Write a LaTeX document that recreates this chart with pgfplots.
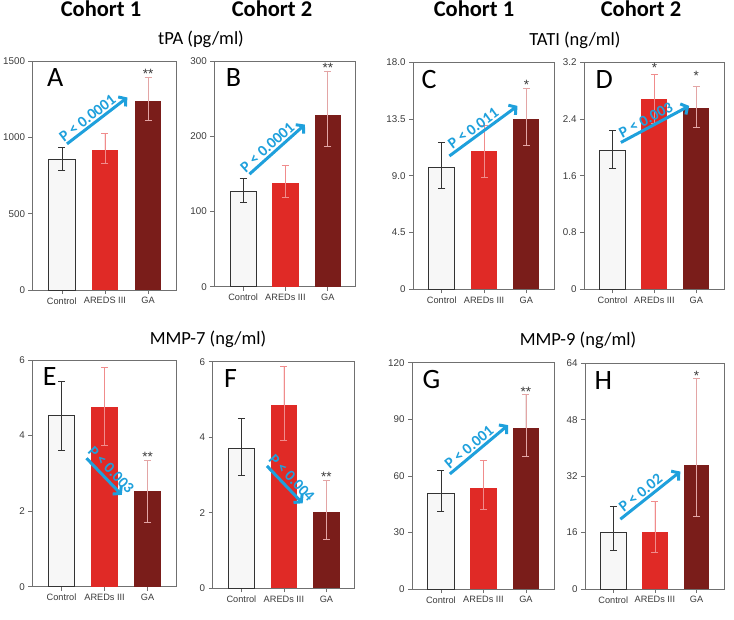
\documentclass[border=0pt]{standalone}
\usepackage{pgfplots}
\pgfplotsset{compat=1.18}
\usetikzlibrary{arrows.meta}
\usepackage{fontspec}
\setmainfont{Carlito}
\newfontfamily\arial{Liberation Sans}
\definecolor{ared}{HTML}{E02A26}
\definecolor{gared}{HTML}{7A1D1A}
\definecolor{pblue}{HTML}{1EA0DC}
\definecolor{framegray}{HTML}{707070}
\definecolor{ticktext}{HTML}{3A3A3A}
\definecolor{ctrlerr}{HTML}{333333}
\definecolor{arederr}{HTML}{F08C8C}
\definecolor{gaerr}{HTML}{E3A5A5}
\pgfplotsset{
 panel/.style={scale only axis, anchor=north west, ymin=0, xmin=-0.68, xmax=2.66,
  xtick={0,1,2}, xticklabels={Control,AREDs III,GA},
  axis line style={draw=framegray, line width=0.7pt},
  tick style={draw=framegray, line width=0.6pt}, tick align=outside,
  xtick pos=bottom, ytick pos=left, major tick length=4pt,
  yticklabel style={font=\arial\fontsize{9.8}{12}\selectfont, text=ticktext},
  xticklabel style={font=\arial\fontsize{9.2}{10}\selectfont, text=ticktext},
  /pgf/number format/assume math mode=true, /pgf/number format/1000 sep={}, clip=false},
 ctrl/.style={ybar, bar width=0.62, bar shift=0pt, fill=white!97!black, draw=ctrlerr, line width=0.8pt,
  error bars/.cd, y dir=both, y explicit, error bar style={draw=ctrlerr, line width=0.6pt},
  error mark options={draw=ctrlerr, rotate=90, mark size=3.5pt, line width=0.6pt}},
 ared/.style={ybar, bar width=0.62, bar shift=0pt, fill=ared, draw=none,
  error bars/.cd, y dir=both, y explicit, error bar style={draw=arederr, line width=0.6pt},
  error mark options={draw=arederr, rotate=90, mark size=3.5pt, line width=0.6pt}},
 gabar/.style={ybar, bar width=0.62, bar shift=0pt, fill=gared, draw=none,
  error bars/.cd, y dir=both, y explicit, error bar style={draw=gaerr, line width=0.6pt},
  error mark options={draw=gaerr, rotate=90, mark size=3.5pt, line width=0.6pt}},
}
\tikzset{
 parrow/.style={pblue, line width=3pt, -{Straight Barb[length=5pt,width=12pt]}},
 ptext/.style={sloped, above, inner sep=1.5pt, font=\bfseries\fontsize{15.5}{15.5}\selectfont, text=pblue},
 letter/.style={anchor=base west, font=\fontsize{28}{30}\selectfont, yshift=-26pt},
 star/.style={font=\arial\fontsize{13.5}{13.5}\selectfont, text=ticktext, yshift=-3pt},
}
\begin{document}
\begin{tikzpicture}
\path[use as bounding box] (0pt,0pt) rectangle (734pt,619pt);
% headers
\node[anchor=base, font=\bfseries\fontsize{22.5}{24}\selectfont] at (101pt,602pt) {Cohort 1};
\node[anchor=base, font=\bfseries\fontsize{22.5}{24}\selectfont] at (272pt,602pt) {Cohort 2};
\node[anchor=base, font=\bfseries\fontsize{22.5}{24}\selectfont] at (474pt,602pt) {Cohort 1};
\node[anchor=base, font=\bfseries\fontsize{22.5}{24}\selectfont] at (641pt,602pt) {Cohort 2};
\node[anchor=base, font=\fontsize{18.5}{20}\selectfont] at (201pt,574pt) {tPA (pg/ml)};
\node[anchor=base, font=\fontsize{18.5}{20}\selectfont] at (575pt,573pt) {TATI (ng/ml)};
\node[anchor=base, font=\fontsize{18.5}{20}\selectfont] at (208pt,274pt) {MMP-7 (ng/ml)};
\node[anchor=base, font=\fontsize{18.5}{20}\selectfont] at (578pt,273pt) {MMP-9 (ng/ml)};

% A
\begin{axis}[panel, at={(32.5pt,558pt)}, width=144pt, height=229pt, ymax=1500, ytick={0,500,1000,1500},
  xticklabels={Control,AREDS III,GA}]
\addplot[ctrl] coordinates {(0,854) += (0,83) -= (0,69)};
\addplot[ared] coordinates {(1,920) += (0,104) -= (0,87)};
\addplot[gabar] coordinates {(2,1235) += (0,156) -= (0,126)};
\node[star] at (axis cs:2,1435) {**};
\draw[parrow] (axis cs:0.12,957) -- (axis cs:1.52,1261) node[pos=0.42, ptext] {P < 0.0001};
\node[letter, xshift=11pt] at (rel axis cs:0,1) {A};
\end{axis}

% B
\begin{axis}[panel, at={(214.3pt,558pt)}, width=141.4pt, height=225.7pt, ymax=300, ytick={0,100,200,300}]
\addplot[ctrl] coordinates {(0,126.7) += (0,17) -= (0,14.7)};
\addplot[ared] coordinates {(1,137.7) += (0,23.7) -= (0,18.9)};
\addplot[gabar] coordinates {(2,228.3) += (0,58.5) -= (0,41.3)};
\node[star] at (axis cs:2,295) {**};
\draw[parrow] (axis cs:0.15,149.6) -- (axis cs:1.46,215.5) node[pos=0.42, ptext] {P < 0.0001};
\node[letter, xshift=8pt] at (rel axis cs:0,1) {B};
\end{axis}

% C
\begin{axis}[panel, at={(413pt,556.7pt)}, width=141.3pt, height=227pt, ymax=18, ytick={0,4.5,9,13.5,18},
  yticklabels={0,4.5,9.0,13.5,18.0}]
\addplot[ctrl] coordinates {(0,9.67) += (0,1.96) -= (0,1.66)};
\addplot[ared] coordinates {(1,10.94) += (0,2.1) -= (0,2.06)};
\addplot[gabar] coordinates {(2,13.51) += (0,2.43) -= (0,2.12)};
\node[star] at (axis cs:2,16.45) {*};
\draw[parrow] (axis cs:0.18,10.57) -- (axis cs:1.79,14.54) node[pos=0.42, ptext] {P < 0.011};
\node[letter, xshift=5pt] at (rel axis cs:0,1) {C};
\end{axis}

% D
\begin{axis}[panel, at={(584pt,556.7pt)}, width=140pt, height=227pt, ymax=3.2, ytick={0,0.8,1.6,2.4,3.2}]
\addplot[ctrl] coordinates {(0,1.964) += (0,0.273) -= (0,0.258)};
\addplot[ared] coordinates {(1,2.678) += (0,0.352) -= (0,0.338)};
\addplot[gabar] coordinates {(2,2.561) += (0,0.296) -= (0,0.277)};
\node[star] at (axis cs:1,3.16) {*};
\node[star] at (axis cs:2,3.05) {*};
\draw[parrow] (axis cs:0.2,2.07) -- (axis cs:1.83,2.585) node[pos=0.42, ptext] {P < 0.003};
\node[letter, xshift=8pt] at (rel axis cs:0,1) {D};
\end{axis}

% E
\begin{axis}[panel, at={(32.3pt,259pt)}, width=143.7pt, height=226.7pt, ymax=6, ytick={0,2,4,6}]
\addplot[ctrl] coordinates {(0,4.53) += (0,0.91) -= (0,0.93)};
\addplot[ared] coordinates {(1,4.76) += (0,1.04) -= (0,1.01)};
\addplot[gabar] coordinates {(2,2.53) += (0,0.82) -= (0,0.83)};
\node[star] at (axis cs:2,3.51) {**};
\draw[parrow] (axis cs:0.58,3.40) -- (axis cs:1.40,2.43) node[pos=0.5, ptext, inner sep=3pt] {P < 0.003};
\node[letter, xshift=7pt] at (rel axis cs:0,1) {E};
\end{axis}

% F
\begin{axis}[panel, at={(212.5pt,257.3pt)}, width=142pt, height=226.6pt, ymax=6, ytick={0,2,4,6}]
\addplot[ctrl] coordinates {(0,3.71) += (0,0.79) -= (0,0.73)};
\addplot[ared] coordinates {(1,4.86) += (0,1.03) -= (0,0.95)};
\addplot[gabar] coordinates {(2,2.02) += (0,0.84) -= (0,0.71)};
\node[star] at (axis cs:2,3.02) {**};
\draw[parrow] (axis cs:0.6,3.24) -- (axis cs:1.44,2.25) node[pos=0.5, ptext, inner sep=3pt] {P < 0.004};
\node[letter, xshift=8pt] at (rel axis cs:0,1) {F};
\end{axis}

% G
\begin{axis}[panel, at={(412pt,256.3pt)}, width=142pt, height=226.3pt, ymax=120, ytick={0,30,60,90,120}]
\addplot[ctrl] coordinates {(0,50.7) += (0,12) -= (0,9.5)};
\addplot[ared] coordinates {(1,53.7) += (0,14.3) -= (0,11.3)};
\addplot[gabar] coordinates {(2,85.2) += (0,17.8) -= (0,15)};
\node[star] at (axis cs:2,106) {**};
\draw[parrow] (axis cs:0.21,61) -- (axis cs:1.58,86.9) node[pos=0.42, ptext] {P < 0.001};
\node[letter, xshift=7pt] at (rel axis cs:0,1) {G};
\end{axis}

% H
\begin{axis}[panel, at={(585pt,255.7pt)}, width=139pt, height=225.7pt, ymax=64, ytick={0,16,32,48,64}]
\addplot[ctrl] coordinates {(0,16.0) += (0,7.5) -= (0,5.1)};
\addplot[ared] coordinates {(1,16.1) += (0,8.9) -= (0,5.8)};
\addplot[gabar] coordinates {(2,35.1) += (0,24.7) -= (0,14.6)};
\node[star] at (axis cs:2,61.4) {*};
\draw[parrow] (axis cs:0.17,19.8) -- (axis cs:1.61,33.3) node[pos=0.42, ptext] {P < 0.02};
\node[letter, xshift=6pt] at (rel axis cs:0,1) {H};
\end{axis}
\end{tikzpicture}
\end{document}
